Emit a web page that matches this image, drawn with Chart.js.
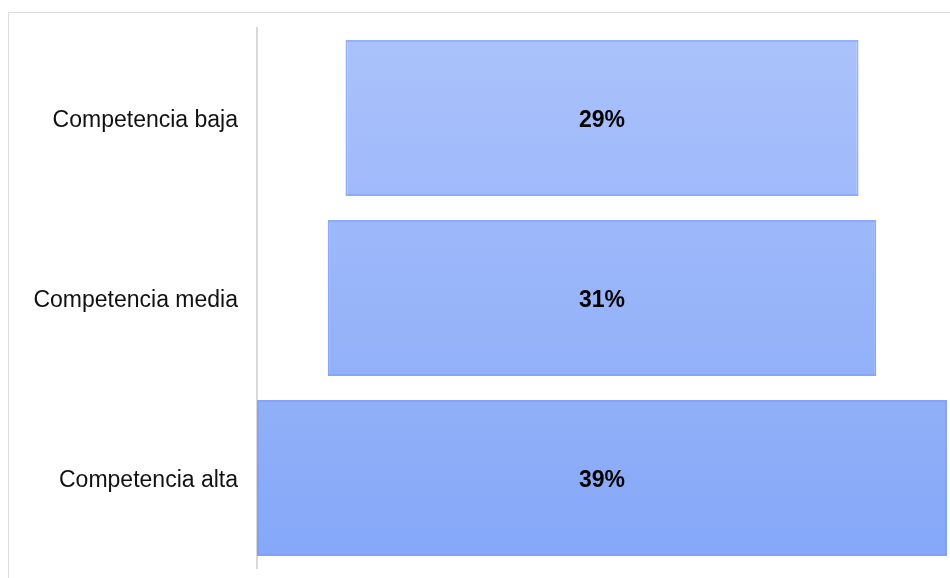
<!DOCTYPE html>
<html>
<head>
<meta charset="utf-8">
<script src="https://cdn.jsdelivr.net/npm/chart.js@4.4.0/dist/chart.umd.min.js"></script>
<style>
  html, body { margin: 0; padding: 0; background: #ffffff; }
  #wrap { position: relative; width: 950px; height: 578px; overflow: hidden; }
  #frame { position: absolute; left: 8px; top: 12px; width: 942px; height: 600px;
           border-left: 1px solid #dddddd; border-top: 1px solid #dddddd; box-sizing: border-box; }
  canvas { position: absolute; left: 0; top: 0; }
</style>
</head>
<body>
<div id="wrap">
  <div id="frame"></div>
  <canvas id="c" width="950" height="578"></canvas>
</div>
<script>
const categories = ["Competencia baja", "Competencia media", "Competencia alta"];
const values = [29, 31, 39];
const valueLabels = ["29%", "31%", "39%"];

const maxVal = Math.max(...values);
const floating = values.map(v => [-v / 2, v / 2]);

function makeGradient(ctx, area, top, bottom) {
  const g = ctx.createLinearGradient(0, area.top, 0, area.bottom);
  g.addColorStop(0, top);
  g.addColorStop(1, bottom);
  return g;
}

const labelPlugin = {
  id: 'centerLabels',
  afterDatasetsDraw(chart) {
    const ctx = chart.ctx;
    const meta = chart.getDatasetMeta(0);
    ctx.save();
    ctx.font = 'bold 23px "Liberation Sans", Arial, sans-serif';
    ctx.fillStyle = '#000000';
    ctx.textAlign = 'center';
    ctx.textBaseline = 'middle';
    meta.data.forEach((el, i) => {
      const cx = (el.x + el.base) / 2;
      ctx.fillText(valueLabels[i], cx, el.y + 3);
    });
    ctx.restore();
  }
};

new Chart(document.getElementById('c'), {
  type: 'bar',
  data: {
    labels: categories,
    datasets: [{
      data: floating,
      backgroundColor: (c) => {
        const a = c.chart.chartArea;
        if (!a) return '#9ab5fa';
        return makeGradient(c.chart.ctx, a, '#abc2fb', '#85a7f8');
      },
      borderColor: (c) => {
        const a = c.chart.chartArea;
        if (!a) return '#8eaefa';
        return makeGradient(c.chart.ctx, a, '#93b2fb', '#7ea0f6');
      },
      borderWidth: 2,
      borderSkipped: false,
      barPercentage: 0.867,
      categoryPercentage: 1.0
    }]
  },
  options: {
    indexAxis: 'y',
    responsive: false,
    animation: false,
    layout: { padding: { top: 28, bottom: 10, right: 3, left: 0 } },
    plugins: { legend: { display: false }, tooltip: { enabled: false } },
    scales: {
      x: { display: false, min: -maxVal / 2, max: maxVal / 2 },
      y: {
        afterFit(scale) { scale.width = 257; scale.paddingTop = 0; scale.paddingBottom = 0; },
        grid: { display: false, drawTicks: false },
        border: { display: true, color: '#d9d9d9', width: 2 },
        ticks: {
          padding: 19,
          labelOffset: 3,
          color: '#111111',
          font: { family: '"Liberation Sans", Arial, sans-serif', size: 23 }
        }
      }
    }
  },
  plugins: [labelPlugin]
});
</script>
</body>
</html>
